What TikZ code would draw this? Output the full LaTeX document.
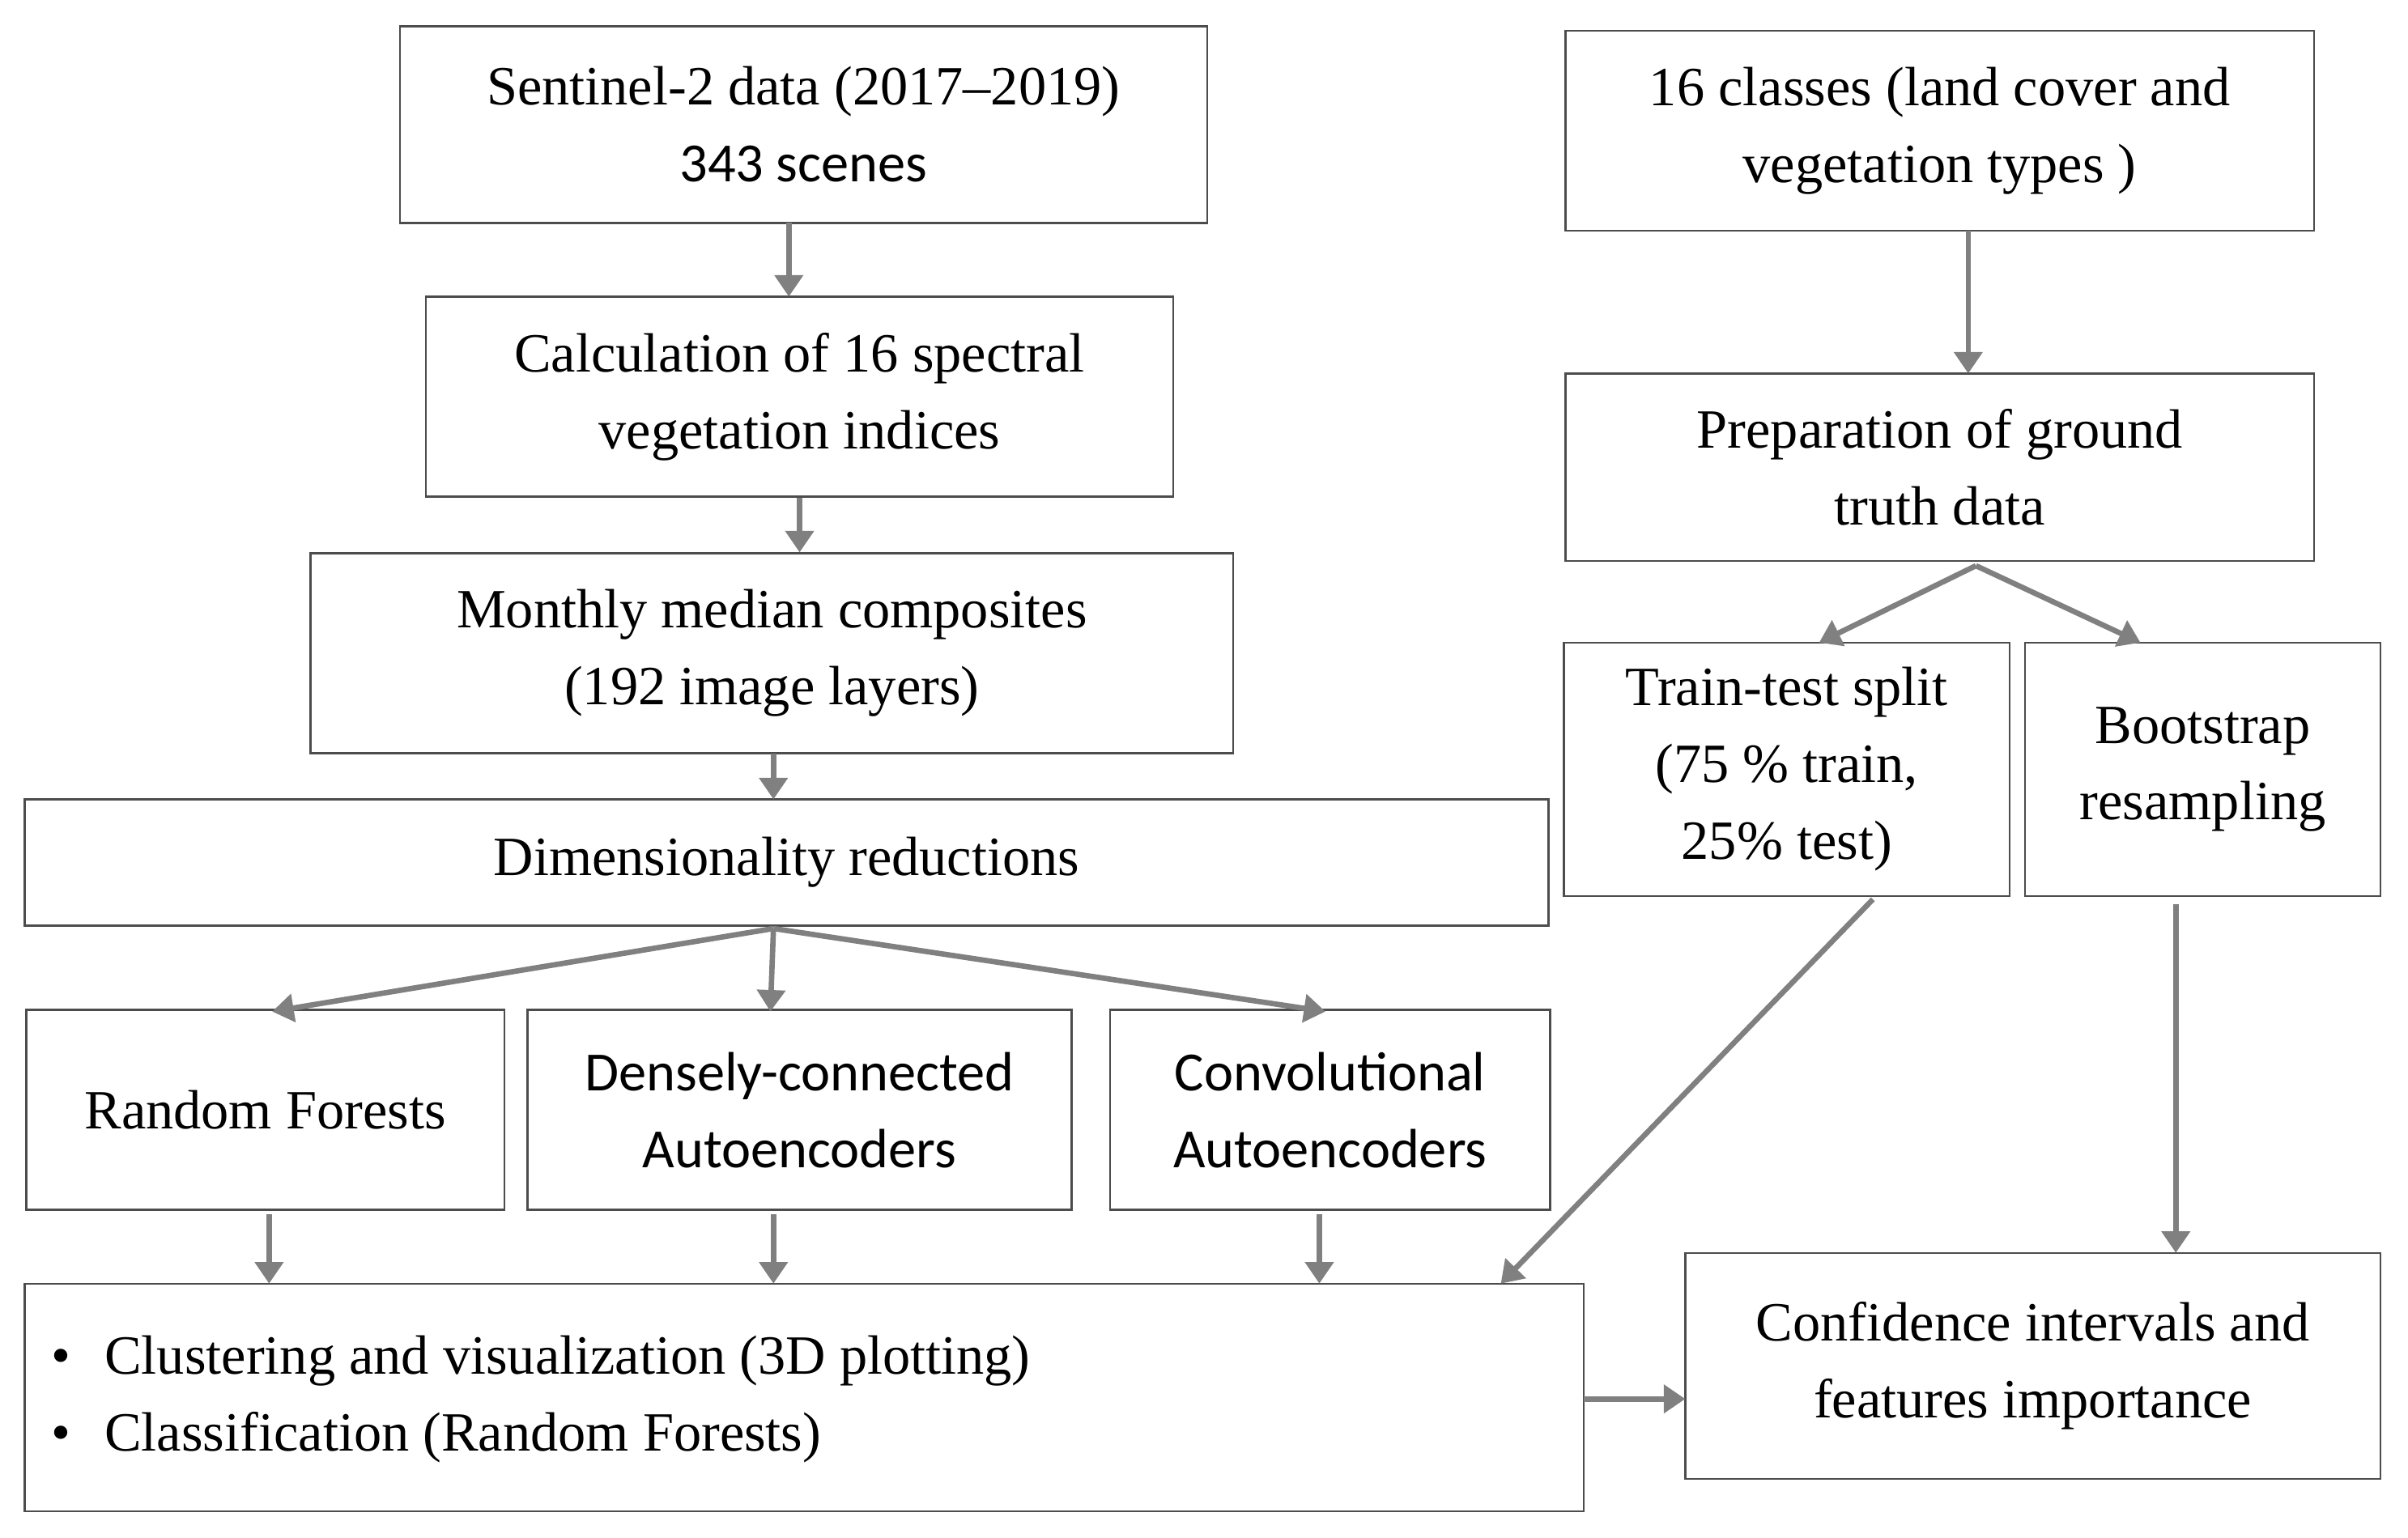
\documentclass[tikz,border=0pt]{standalone}
\usepackage{fontspec}
\setmainfont{Liberation Serif}
\newfontfamily\mysans{Carlito}
\usetikzlibrary{arrows.meta,calc}
\tikzset{box/.style={draw=black!70,line width=1.3pt,align=center,inner sep=0pt,font=\fontsize{36}{50}\selectfont},
arr/.style={draw=black!50,line width=3.5pt,-{Triangle[length=14pt,width=18pt]}}}
\newcommand{\bx}[6]{\node[box,minimum width={#4-#2},minimum height={#5-#3}] (#1) at ({(#2+#4)/2},{(#3+#5)/2}) {#6};}
\begin{document}
\begin{tikzpicture}[x=1pt,y=-1pt]
\useasboundingbox (0,0) rectangle (1566,1000);
\bx{sen}{260}{17}{785}{145}{Sentinel-2 data (2017–2019)\\{\mysans 343 scenes}}
\bx{cls}{1018}{20}{1505}{150}{16 classes (land cover and\\vegetation types )}
\bx{calc}{277}{193}{763}{323}{Calculation of 16 spectral\\vegetation indices}
\bx{prep}{1018}{243}{1505}{365}{Preparation of ground\\truth data}
\bx{mon}{202}{360}{802}{490}{Monthly median composites\\(192 image layers)}
\bx{dim}{16}{520}{1007}{602}{Dimensionality reductions}
\bx{tt}{1017}{418}{1307}{583}{Train-test split\\(75 \% train,\\25\% test)}
\bx{bs}{1317}{418}{1548}{583}{Bootstrap\\resampling}
\bx{rf}{17}{657}{328}{787}{Random Forests}
\bx{dae}{343}{657}{697}{787}{\mysans Densely-connected\\\mysans Autoencoders}
\bx{cae}{722}{657}{1008}{787}{\mysans Convolutional\\\mysans Autoencoders}
\bx{clu}{16}{835}{1030}{983}{}
\node[font=\fontsize{36}{50}\selectfont,align=left,anchor=west] (clut) at (30,910) {\textbullet\hspace{22pt}Clustering and visualization (3D plotting)\\\textbullet\hspace{22pt}Classification (Random Forests)};
\bx{ci}{1096}{815}{1548}{962}{Confidence intervals and\\features importance}
\coordinate (dimb) at (503,604);
\draw[arr] (513,145) -- (513,193);
\draw[arr] (calc.south) -- (calc.south |- mon.north);
\draw[arr] (503,490) -- (503,520);
\draw[arr] (dimb) -- (177,658);
\draw[arr] (dimb) -- (501,658);
\draw[arr] (dimb) -- (862,658);
\draw[arr] (1280,150) -- (1280,243);
\coordinate (prepb) at (1285,368);
\draw[arr] (prepb) -- (1183,418);
\draw[arr] (prepb) -- (1392,418);
\draw[arr] (175,790) -- (175,835);
\draw[arr] (503,790) -- (503,835);
\draw[arr] (858,790) -- (858,835);
\draw[arr] (1218,585) -- (976,835);
\draw[arr] (1415,588) -- (1415,815);
\draw[arr] (1030,910) -- (1096,910);
\end{tikzpicture}
\end{document}
